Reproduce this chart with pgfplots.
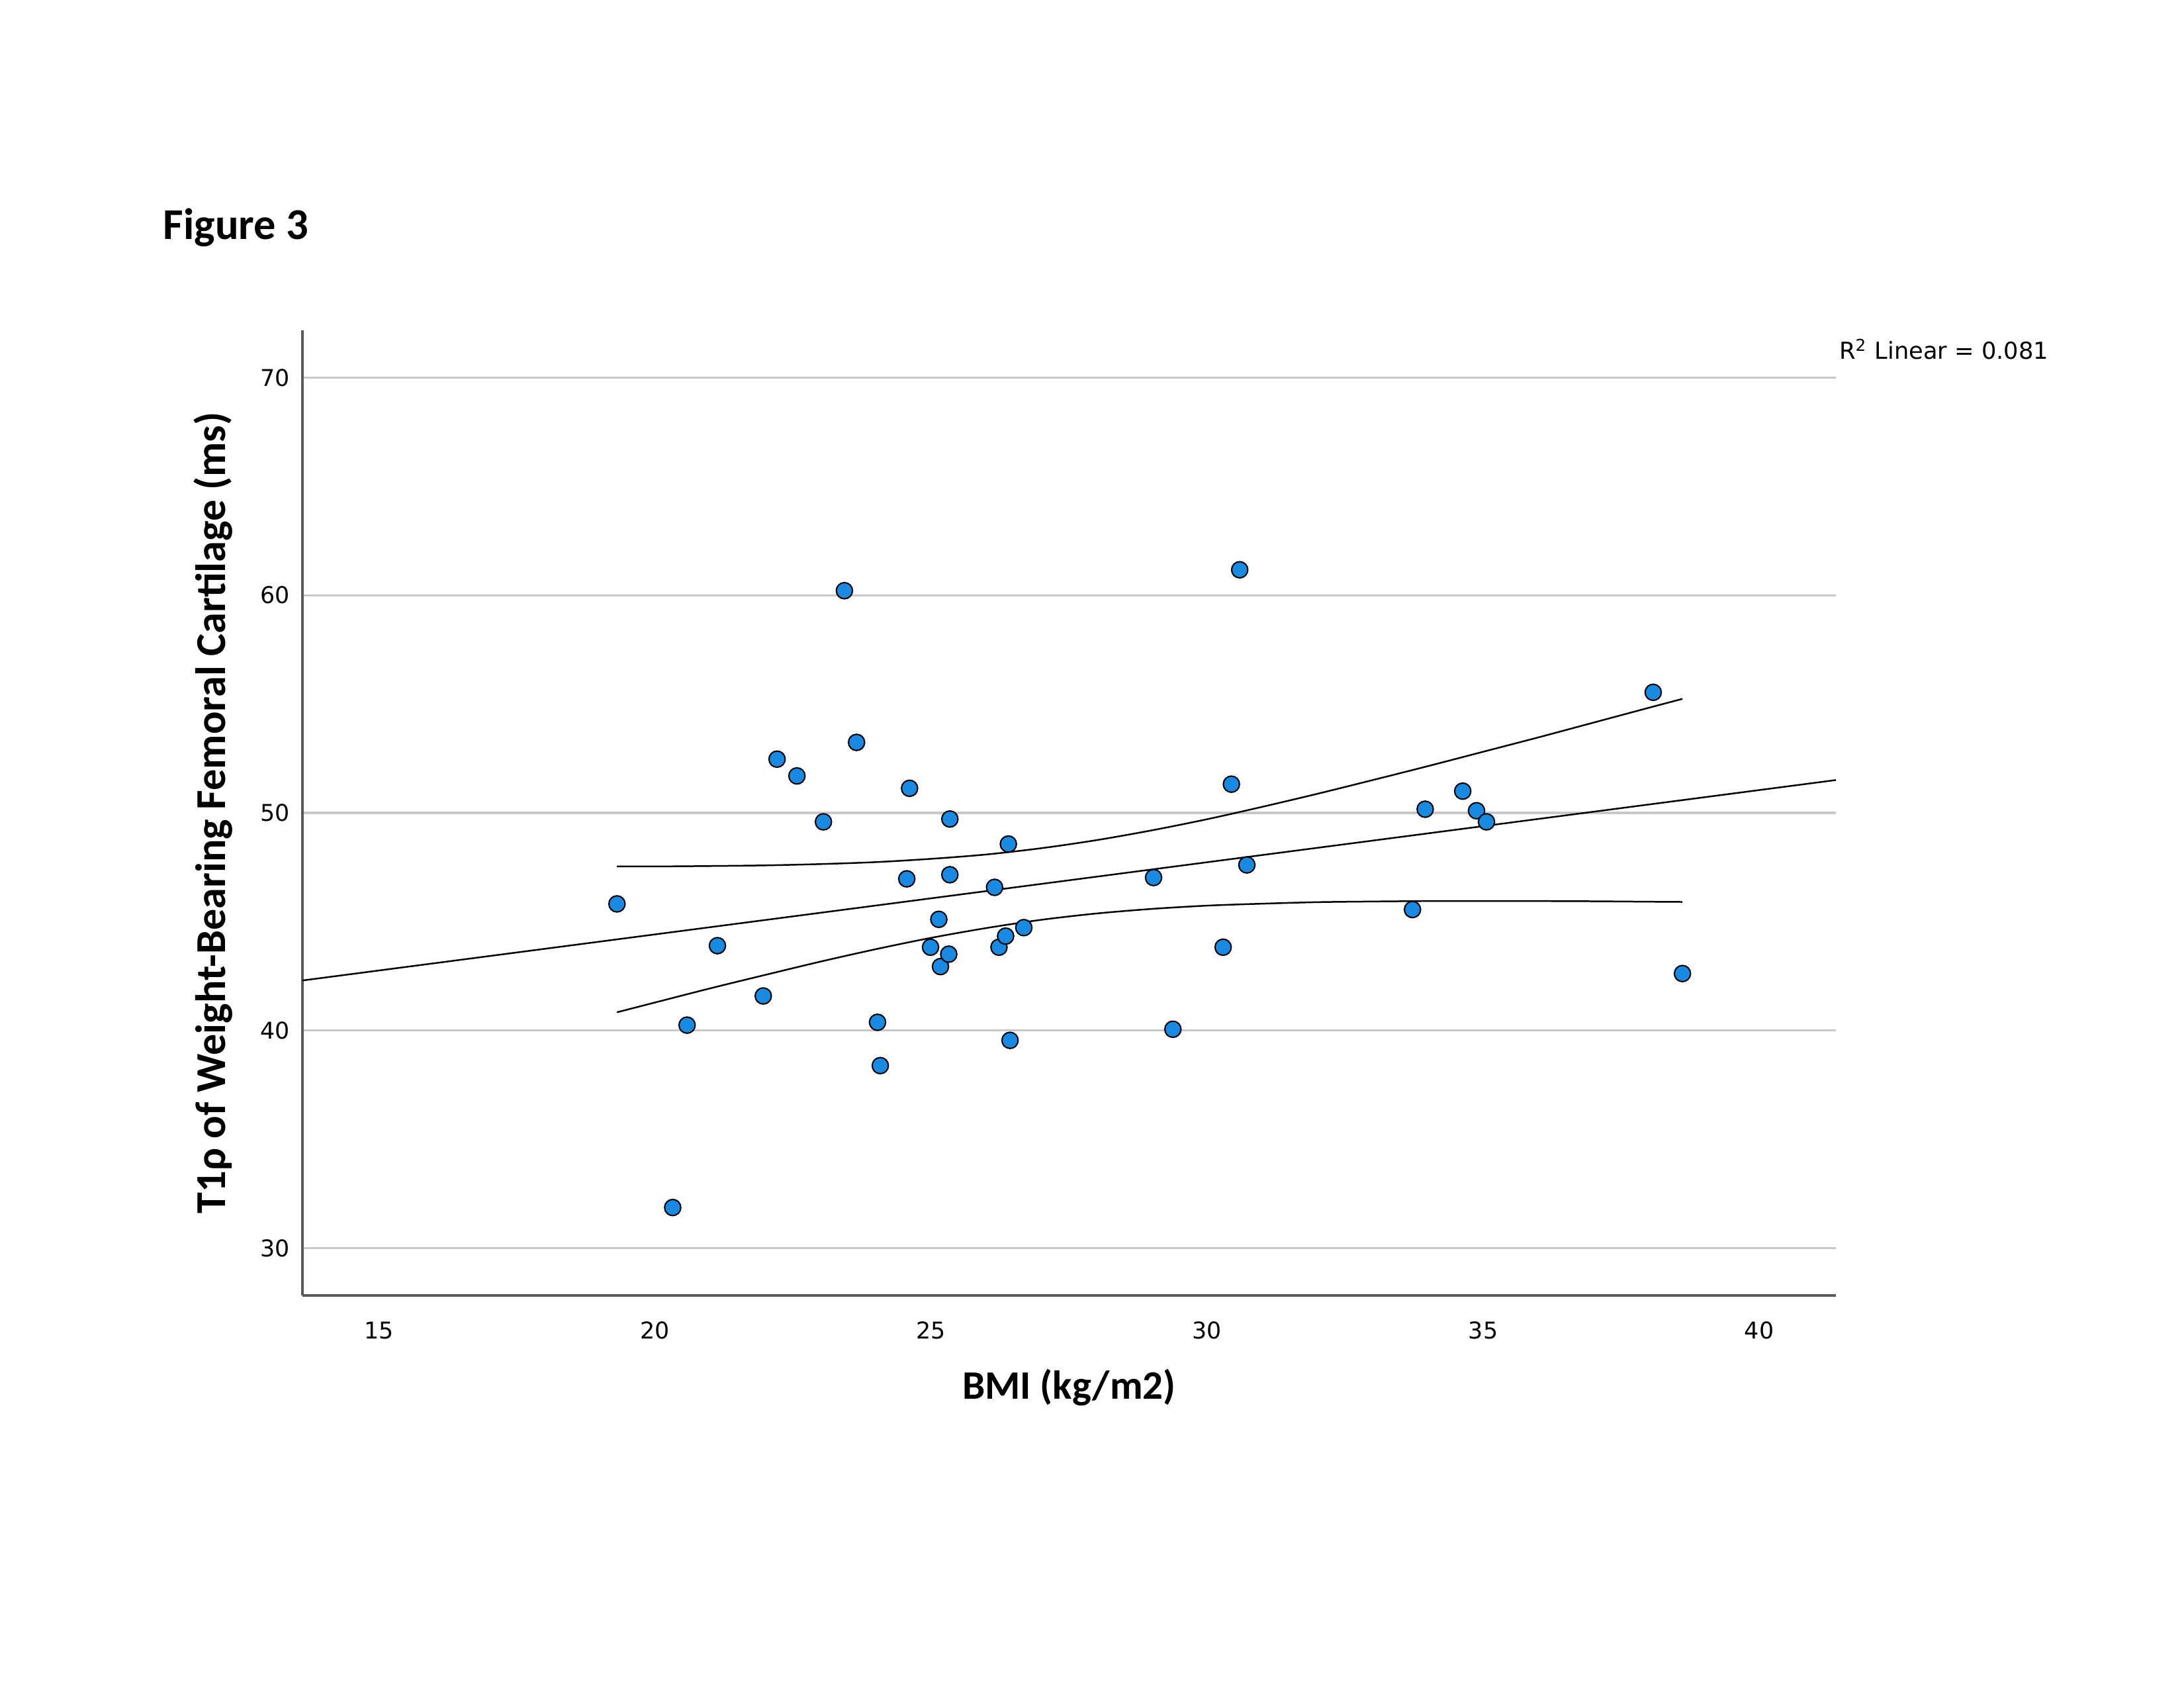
\documentclass[border=0pt]{standalone}
\usepackage{fontspec}
\usepackage{pgfplots}
\pgfplotsset{compat=1.18}
\newfontfamily\spss{DejaVu Sans}
\newfontfamily\calib{Carlito}
\definecolor{dotblue}{RGB}{24,138,226}
\definecolor{gridgray}{RGB}{200,200,200}
\definecolor{axgray}{RGB}{90,90,90}
\begin{document}
\begin{tikzpicture}
\path[use as bounding box] (0,0) rectangle (27.94cm,21.59cm);
\node[anchor=base west, inner sep=0pt, font=\calib\bfseries\fontsize{16}{19}\selectfont] at (2.083cm,18.525cm) {Figure 3};
\begin{axis}[
  at={(3.867cm,5.018cm)}, anchor=south west,
  scale only axis, width=19.62cm, height=12.349cm,
  xmin=13.61, xmax=41.39, ymin=27.82, ymax=72.18,
  axis x line*=bottom, axis y line*=left,
  axis line style={-, draw=axgray, line width=1pt},
  xtick={15,20,25,30,35,40}, ytick={30,40,50,60,70},
  major tick length=0pt,
  ymajorgrids, grid style={draw=gridgray, line width=0.8pt},
  /pgf/number format/assume math mode=true,
  tick label style={font=\spss\fontsize{8.4}{10}\selectfont},
  xticklabel style={yshift=-6pt},
  yticklabel style={xshift=-1pt},
  xlabel={BMI (kg/m2)}, ylabel={T1ρ of Weight-Bearing Femoral Cartilage (ms)},
  xlabel style={at={(axis description cs:0.5,-0.0953)}, anchor=center, font=\calib\bfseries\fontsize{14.7}{17}\selectfont},
  ylabel style={at={(axis description cs:-0.0583,0.5)}, anchor=center, font=\calib\bfseries\fontsize{15.5}{18}\selectfont},
  clip=false,
]
% regression line
\addplot[black, line width=0.6pt] coordinates {(13.61,42.30) (41.39,51.51)};
% upper confidence band
\addplot[black, line width=0.6pt, smooth] coordinates {
(19.31,47.54) (20,47.54) (21,47.56) (22,47.59) (23,47.65) (24,47.74) (25,47.89)
(26,48.09) (27,48.38) (28,48.75) (29,49.20) (30,49.71) (31,50.28) (32,50.88)
(33,51.51) (34,52.15) (35,52.81) (36,53.47) (37,54.15) (38,54.83) (38.61,55.24)};
% lower confidence band
\addplot[black, line width=0.6pt, smooth] coordinates {
(19.31,40.84) (20,41.29) (21,41.94) (22,42.56) (23,43.17) (24,43.74) (25,44.26)
(26,44.71) (27,45.09) (28,45.38) (29,45.59) (30,45.74) (31,45.83) (32,45.90)
(33,45.93) (34,45.95) (35,45.95) (36,45.95) (37,45.94) (38,45.92) (38.61,45.91)};
% data points
\addplot[only marks, mark=*, mark size=2.95pt, mark options={fill=dotblue, draw=black, line width=0.5pt}] coordinates {
(19.31,45.82) (20.32,31.87) (20.58,40.25) (21.13,43.90) (21.96,41.59)
(22.21,52.47) (22.57,51.70) (23.05,49.59) (23.43,60.21) (23.65,53.24)
(24.03,40.38) (24.08,38.39) (24.56,46.97) (24.61,51.13) (24.99,43.83)
(25.14,45.11) (25.17,42.94) (25.32,43.51) (25.34,49.72) (25.34,47.16)
(26.15,46.58) (26.23,43.83) (26.35,44.34) (26.40,48.57) (26.43,39.55)
(26.68,44.73) (29.03,47.03) (29.38,40.06) (30.29,43.83) (30.44,51.32)
(30.59,61.17) (30.72,47.61) (33.72,45.56) (33.95,50.17) (34.63,51.00)
(34.88,50.10) (35.06,49.59) (38.08,55.54) (38.61,42.62)};
\node[anchor=west, inner sep=0pt, font=\spss\fontsize{8.5}{10}\selectfont] at (axis description cs:1.0018,0.980) {R\textsuperscript{2} Linear = 0.081};
\end{axis}
\end{tikzpicture}
\end{document}
